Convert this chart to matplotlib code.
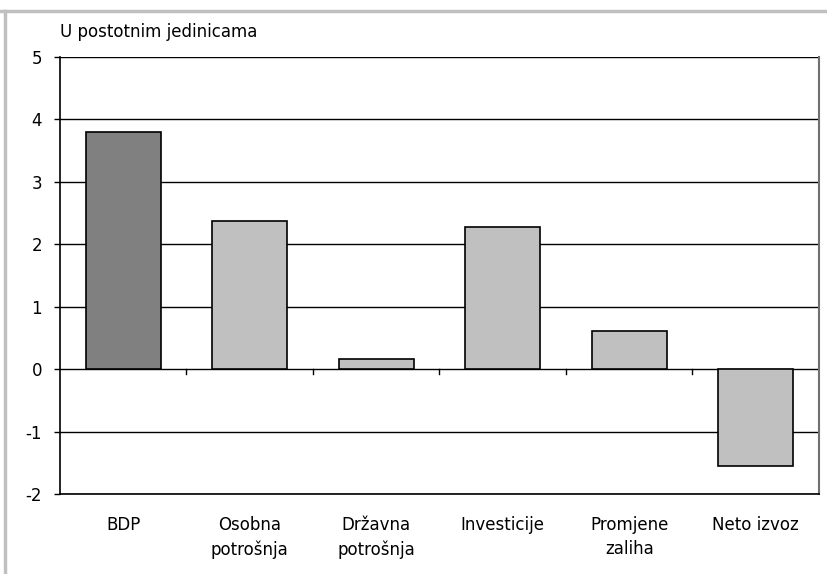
import matplotlib
matplotlib.use("Agg")
import matplotlib.pyplot as plt
from matplotlib.lines import Line2D
import numpy as np

categories = ["BDP", "Osobna\npotrošnja", "Državna\npotrošnja", "Investicije", "Promjene\nzaliha", "Neto izvoz"]
values = [3.8, 2.37, 0.16, 2.27, 0.61, -1.55]
bar_colors = ["#808080", "#c0c0c0", "#c0c0c0", "#c0c0c0", "#c0c0c0", "#c0c0c0"]
yticks = [-2, -1, 0, 1, 2, 3, 4, 5]

plt.rcParams['font.family'] = ['DejaVu Sans']

fig = plt.figure(figsize=(8.28, 5.74), dpi=100)
W, H = 828, 574
left, right, top, bottom = 60, 819, 57, 494
ax = fig.add_axes([left / W, 1 - bottom / H, (right - left) / W, (bottom - top) / H])

x = np.arange(len(categories))
ax.bar(x, values, width=0.59, color=bar_colors, edgecolor="black", linewidth=1.2, zorder=3)

ax.set_xlim(-0.5, len(categories) - 0.5)
ax.set_ylim(min(yticks), max(yticks))
ax.set_yticks(yticks)
ax.set_yticklabels([str(t) for t in yticks], fontsize=12)
for t in yticks:
    ax.axhline(t, color="black", linewidth=1.0, zorder=1)

ax.set_xticks(x)
ax.set_xticklabels(categories, fontsize=12, linespacing=1.45)
ax.tick_params(axis="x", length=0, pad=15.5)
ax.tick_params(axis="y", length=4, width=1, pad=9, direction="out")

# category boundary ticks at zero line
for b in np.arange(len(categories) - 1) + 0.5:
    ax.plot([b, b], [0, -0.07], color="black", linewidth=1.0, zorder=2)

for s in ["left", "bottom"]:
    ax.spines[s].set_color("black")
    ax.spines[s].set_linewidth(1.2)
ax.spines["top"].set_visible(False)
ax.spines["right"].set_color("#707070")
ax.spines["right"].set_linewidth(1.5)

fig.text(left / W, 1 - 32 / H, "U postotnim jedinicama", fontsize=12, va="center", ha="left")

# outer gray frame lines
fig.add_artist(Line2D([0, 1], [1 - 11 / H, 1 - 11 / H], transform=fig.transFigure, color="#c0c0c0", linewidth=2.5))
fig.add_artist(Line2D([5 / W, 5 / W], [0, 1 - 11 / H], transform=fig.transFigure, color="#c0c0c0", linewidth=2.5))

fig.savefig("out.png", dpi=100)
